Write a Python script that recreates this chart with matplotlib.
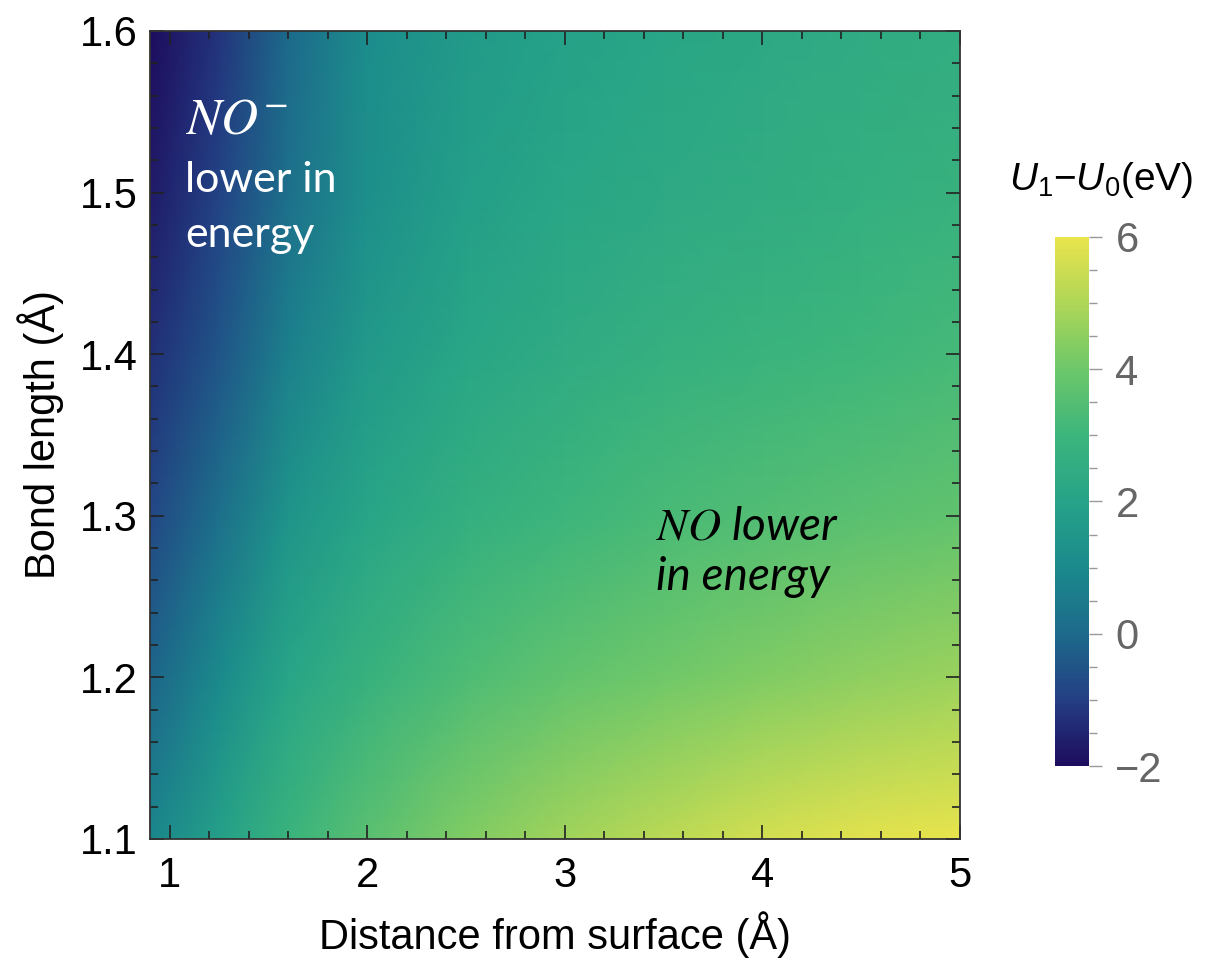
import numpy as np
import matplotlib
matplotlib.use("Agg")
import matplotlib.pyplot as plt
from matplotlib.colors import LinearSegmentedColormap
from matplotlib.ticker import MultipleLocator

# Grid (distance in Å, bond length in Å)
distancia = [0.9, 1.25, 1.6, 2.0, 2.5, 3.0, 3.5, 4.0, 4.5, 5.0]
enlace = [1.1, 1.2, 1.3, 1.4, 1.5, 1.6]

# U1 - U0 (eV), one row per bond length, bottom to top
dU_110 = [0.9, 1.9, 2.9, 3.6, 4.3, 4.8, 5.2, 5.6, 5.85, 6.0]
dU_120 = [-0.1, 1.0, 2.1, 2.8, 3.35, 3.75, 4.05, 4.3, 4.5, 4.7]
dU_130 = [-0.8, 0.2, 1.4, 2.1, 2.65, 3.0, 3.25, 3.45, 3.6, 3.75]
dU_140 = [-1.3, -0.5, 0.7, 1.6, 2.15, 2.45, 2.7, 2.9, 3.05, 3.2]
dU_150 = [-1.7, -0.9, 0.2, 1.2, 1.85, 2.15, 2.35, 2.5, 2.65, 2.8]
dU_160 = [-2.0, -1.2, 0.0, 1.1, 1.65, 1.95, 2.15, 2.3, 2.45, 2.6]

cb_ticks = [-2, 0, 2, 4, 6]
x_ticks = [1, 2, 3, 4, 5]
y_ticks = [1.1, 1.2, 1.3, 1.4, 1.5, 1.6]

# paleta tipo Mathematica (viridis con base índigo)
paleta = LinearSegmentedColormap.from_list("mma", [
    "#1e0c5e", "#243f84", "#1d6a8b", "#1b8a8c", "#26a388",
    "#3cb57c", "#6cc76a", "#aed658", "#e9e44c"])

Z = np.array([dU_110, dU_120, dU_130, dU_140, dU_150, dU_160])
X, Y = np.meshgrid(distancia, enlace)

plt.rcParams['font.family'] = ['Liberation Sans', 'DejaVu Sans']
plt.rcParams['mathtext.fontset'] = 'custom'
plt.rcParams['mathtext.it'] = 'Liberation Sans:italic'
plt.rcParams['mathtext.rm'] = 'Liberation Sans'

fig = plt.figure(figsize=(12.06, 9.61), dpi=100)
ax = fig.add_axes([0.1244, 0.127, 0.6716, 0.8408])
malla = ax.pcolormesh(X, Y, Z, cmap=paleta, vmin=-2, vmax=6, shading='gouraud', rasterized=True)

ax.set_xlim(0.9, 5)
ax.set_ylim(1.1, 1.6)
ax.set_xticks(x_ticks)
ax.set_yticks(y_ticks)
ax.set_yticklabels([f"{v:.1f}" for v in y_ticks])
ax.xaxis.set_minor_locator(MultipleLocator(0.2))
ax.yaxis.set_minor_locator(MultipleLocator(0.02))
ax.tick_params(which='both', direction='in', top=True, right=True, color='#222222', width=1.2)
ax.tick_params(which='major', length=10, labelsize=30)
ax.tick_params(axis='x', which='major', pad=12)
ax.tick_params(axis='y', which='major', pad=9)
ax.tick_params(which='minor', length=6)
for s in ax.spines.values():
    s.set_color('#333333')
    s.set_linewidth(1.3)

ax.set_xlabel("Distance from surface (Å)", fontsize=30, labelpad=11)
ax.set_ylabel("Bond length (Å)", fontsize=30, labelpad=11)

# anotaciones
ax.text(1.077, 1.5363, r"$NO^{-}$", color='white', fontsize=37, math_fontfamily='stix',
        ha='left', va='baseline')
ax.text(1.077, 1.5004, "lower in", color='white', fontsize=31, family='Lato',
        ha='left', va='baseline')
ax.text(1.077, 1.4663, "energy", color='white', fontsize=31, family='Lato',
        ha='left', va='baseline')
ax.text(3.46, 1.2856, r"$NO$ lower", color='black', fontsize=33, family='Lato',
        style='italic', math_fontfamily='stix', ha='left', va='baseline')
ax.text(3.46, 1.254, "in energy", color='black', fontsize=33, family='Lato',
        style='italic', ha='left', va='baseline')

# barra de color
cax = fig.add_axes([0.8748, 0.2029, 0.0282, 0.5505])
cb = fig.colorbar(malla, cax=cax, ticks=cb_ticks)
cb.outline.set_visible(False)
cb.ax.yaxis.set_minor_locator(MultipleLocator(0.5))
cb.ax.tick_params(which='both', colors='#999999', labelcolor='#666666', width=1)
cb.ax.tick_params(which='major', length=9, labelsize=30, pad=10)
cb.ax.tick_params(which='minor', length=6)
cb.ax.set_yticklabels(["\u22122", "0", "2", "4", "6"])
fig.text(0.913, 0.8023, r"$U_1$" + "\u2212" + r"$U_0$(eV)", fontsize=28, ha='center', va='baseline')

fig.savefig("out.png", dpi=100)
